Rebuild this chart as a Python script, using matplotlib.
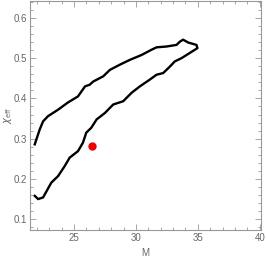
import matplotlib
matplotlib.use('Agg')
import matplotlib.pyplot as plt
from matplotlib.ticker import MultipleLocator

plt.rcParams['font.family'] = ['Liberation Sans', 'DejaVu Sans']

# Contour: upper branch, around the tip, back along lower branch
contour_M = [21.83, 21.96, 22.23, 22.50, 22.90, 23.71, 24.51, 25.32, 25.89, 26.26,
             26.55, 27.36, 27.90, 28.71, 29.52, 30.46, 31.26, 31.67, 32.47, 33.28,
             33.55, 33.81, 34.22, 34.89, 34.97,
             34.35, 33.68, 33.14, 32.74, 32.20, 31.67, 31.13, 30.32, 29.65, 28.97,
             28.17, 27.50, 26.83, 26.39, 25.99, 25.72, 25.32, 24.65, 24.25, 23.71,
             23.17, 22.50, 22.10, 21.83]
contour_chi = [0.286, 0.298, 0.323, 0.343, 0.356, 0.372, 0.390, 0.405, 0.430, 0.434,
               0.442, 0.455, 0.471, 0.484, 0.496, 0.508, 0.521, 0.527, 0.529, 0.533,
               0.541, 0.546, 0.539, 0.533, 0.525,
               0.513, 0.500, 0.492, 0.479, 0.463, 0.459, 0.447, 0.430, 0.414, 0.393,
               0.385, 0.364, 0.348, 0.327, 0.315, 0.290, 0.269, 0.253, 0.232, 0.207,
               0.191, 0.154, 0.150, 0.158]

point_M = [26.47]
point_chi = [0.281]

gray = '#999999'
text_gray = '#666666'

fig = plt.figure(figsize=(2.66, 2.58), dpi=100)
ax = fig.add_axes([0.113, 0.109, 0.868, 0.887])

ax.plot(contour_M, contour_chi, color='black', lw=1.7, solid_joinstyle='round')
ax.plot(point_M, point_chi, 'o', color='#ee0000', ms=6, mec='none')

ax.set_xlim(21.45, 40.1)
ax.set_ylim(0.0735, 0.642)
ax.xaxis.set_major_locator(MultipleLocator(5))
ax.xaxis.set_minor_locator(MultipleLocator(1))
ax.yaxis.set_major_locator(MultipleLocator(0.1))
ax.yaxis.set_minor_locator(MultipleLocator(0.02))
ax.xaxis.set_major_formatter(plt.FuncFormatter(lambda v, p: f'{v:.0f}'))
ax.yaxis.set_major_formatter(plt.FuncFormatter(lambda v, p: f'{v:.1f}'))

for s in ax.spines.values():
    s.set_color(gray)
    s.set_linewidth(0.8)
ax.tick_params(which='both', direction='in', top=True, right=True, color=gray,
               labelcolor=text_gray, labelsize=7, width=0.6)
ax.tick_params(which='major', length=4, pad=2)
ax.tick_params(which='minor', length=2)

ax.set_xlabel('M', color=text_gray, fontsize=7, labelpad=4)
ax.set_ylabel(r'$\chi_{\rm eff}$', color=text_gray, fontsize=7)
ax.yaxis.set_label_coords(-0.068, 0.5)

fig.savefig('out.png', dpi=100)
